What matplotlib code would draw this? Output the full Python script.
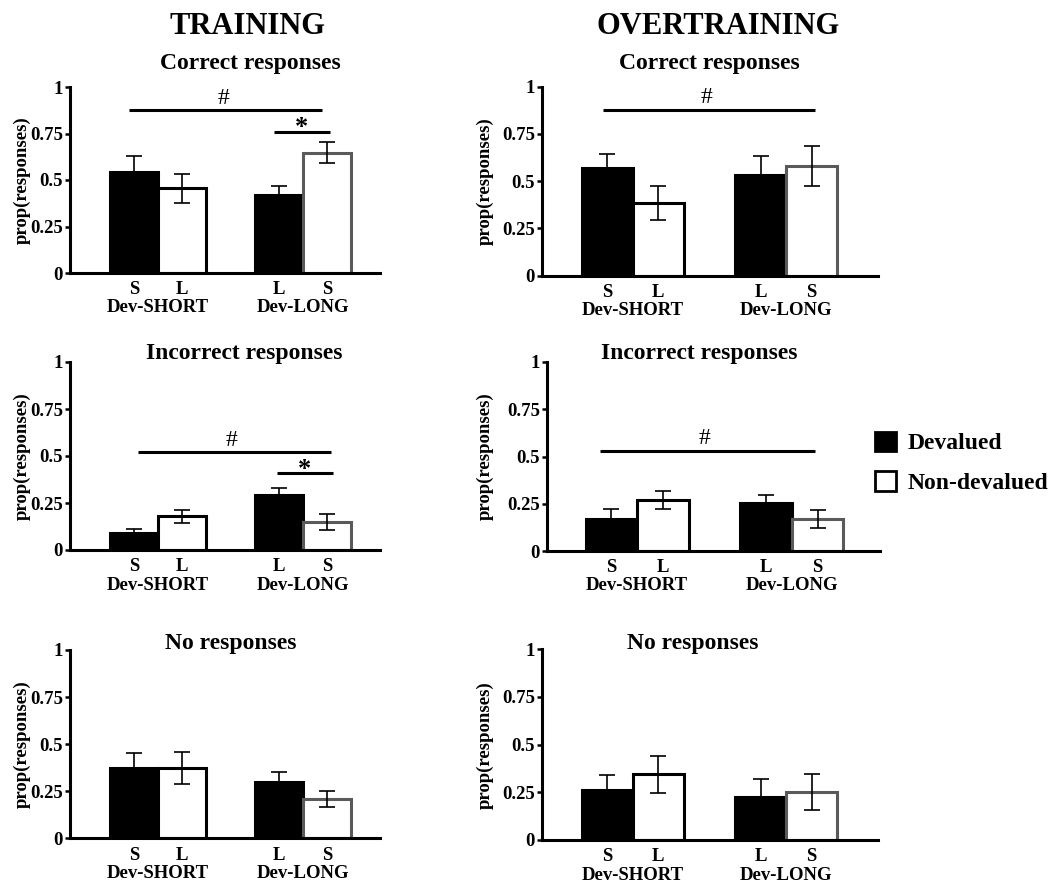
import matplotlib
matplotlib.use("Agg")
import matplotlib.pyplot as plt
from matplotlib.patches import Patch

plt.rcParams['font.family'] = ['Liberation Serif', 'DejaVu Serif']
plt.rcParams['font.weight'] = 'bold'

W, H = 1050, 882

# order of bars: Dev-SHORT (devalued S, non-devalued L), Dev-LONG (devalued L, non-devalued S)
bar_labels = ["S", "L", "L", "S"]
group_labels = ["Dev-SHORT", "Dev-LONG"]
row_titles = ["Correct responses", "Incorrect responses", "No responses"]
col_titles = ["TRAINING", "OVERTRAINING"]

train_correct = [0.545, 0.455, 0.42, 0.647]
train_correct_err = [0.085, 0.078, 0.05, 0.058]
train_incorrect = [0.092, 0.18, 0.293, 0.15]
train_incorrect_err = [0.02, 0.035, 0.035, 0.042]
train_none = [0.372, 0.372, 0.30, 0.209]
train_none_err = [0.08, 0.085, 0.05, 0.044]

over_correct = [0.571, 0.386, 0.533, 0.58]
over_correct_err = [0.073, 0.09, 0.1, 0.106]
over_incorrect = [0.169, 0.27, 0.252, 0.169]
over_incorrect_err = [0.053, 0.05, 0.045, 0.048]
over_none = [0.262, 0.344, 0.224, 0.253]
over_none_err = [0.08, 0.096, 0.095, 0.094]

values = [[train_correct, over_correct],
          [train_incorrect, over_incorrect],
          [train_none, over_none]]
errors = [[train_correct_err, over_correct_err],
          [train_incorrect_err, over_incorrect_err],
          [train_none_err, over_none_err]]

# significance brackets: (row, col, kind, x0, x1, y)
sig_lines = [
    (0, 0, "#", -0.10, 3.90, 0.876),
    (0, 0, "*", 2.90, 4.06, 0.760),
    (0, 1, "#", -0.09, 4.07, 0.877),
    (1, 0, "#", 0.08, 4.08, 0.520),
    (1, 0, "*", 2.96, 4.12, 0.408),
    (1, 1, "#", -0.22, 3.95, 0.531),
]

positions = [0, 1, 3, 4]
group_pos = [0.5, 3.5]
face = ["black", "white", "black", "white"]
edge = ["black", "black", "black", "#5a5a5a"]

# axes boxes in pixels: (left, right, bottom(y=0), top(y=1))
boxes = [[(70, 380, 273, 87), (542, 878, 275.7, 86.7)],
         [(70, 380, 550, 362), (547, 880, 551, 362)],
         [(70, 380, 838.3, 650), (542, 878, 840, 649.3)]]
xlims = [[(-1.33, 5.10), (-1.28, 5.30)],
         [(-1.33, 5.10), (-1.25, 5.21)],
         [(-1.33, 5.10), (-1.28, 5.30)]]
title_pos = [[(250, 63), (709, 63)],
             [(244, 354), (699, 354)],
             [(231, 643), (693, 643)]]
ylabel_x = [31, 494]

fig = plt.figure(figsize=(W / 100, H / 100), dpi=100)

for r in range(3):
    for c in range(2):
        l, rr, b, t = boxes[r][c]
        ax = fig.add_axes([l / W, 1 - b / H, (rr - l) / W, (b - t) / H])
        ax.bar(positions, values[r][c], width=1.0, color=face, edgecolor=edge,
               linewidth=2.2, zorder=2)
        ax.errorbar(positions, values[r][c], yerr=errors[r][c], fmt='none',
                    ecolor='black', elinewidth=1.2, capsize=5.5, capthick=1.2, zorder=3)
        ax.set_xlim(*xlims[r][c])
        ax.set_ylim(0, 1)
        ax.set_yticks([0, 0.25, 0.5, 0.75, 1])
        ax.set_yticklabels(["0", "0.25", "0.5", "0.75", "1"])
        ax.set_xticks(positions)
        ax.set_xticklabels(bar_labels)
        for s in ["top", "right"]:
            ax.spines[s].set_visible(False)
        for s in ["left", "bottom"]:
            ax.spines[s].set_linewidth(2.2)
        ax.tick_params(axis='y', direction='out', length=3.6, width=1.8,
                       labelsize=13.5, pad=1.5)
        ax.tick_params(axis='x', length=0, labelsize=13.5, pad=6)
        for lab in ax.get_xticklabels() + ax.get_yticklabels():
            lab.set_fontweight('bold')
        for gp, gl in zip(group_pos, group_labels):
            ax.annotate(gl, xy=(gp, 0), xycoords=('data', 'axes fraction'),
                        xytext=(0, -25.2), textcoords='offset points',
                        ha='center', va='center', fontsize=13.5, fontweight='bold')
        ax.set_ylabel("prop(responses)", fontsize=13.5, fontweight='bold')
        ax.yaxis.set_label_coords((ylabel_x[c] - l) / (rr - l), 0.5)
        tx, ty = title_pos[r][c]
        fig.text(tx / W, 1 - ty / H, row_titles[r], ha='center', va='center',
                 fontsize=17, fontweight='bold')
        for (sr, sc, kind, x0, x1, y) in sig_lines:
            if sr == r and sc == c:
                ax.plot([x0, x1], [y, y], color='black', linewidth=2.2,
                        solid_capstyle='butt', clip_on=False)
                xm = (x0 + x1) / 2 if kind == "*" else (x0 + x1) / 2 - 0.05
                if kind == "#":
                    ax.text(xm, y + 0.035, "#", ha='center', va='baseline',
                            fontsize=17, fontweight='normal')
                else:
                    ax.text(xm, y - 0.012, "*", ha='center', va='baseline',
                            fontsize=19, fontweight='bold')

fig.text(248 / W, 1 - 26 / H, col_titles[0], ha='center', va='center',
         fontsize=22, fontweight='bold')
fig.text(718 / W, 1 - 26 / H, col_titles[1], ha='center', va='center',
         fontsize=22, fontweight='bold')

handles = [Patch(facecolor='black', edgecolor='black', linewidth=2),
           Patch(facecolor='white', edgecolor='black', linewidth=2)]
fig.legend(handles, ["Devalued", "Non-devalued"], loc='upper left',
           bbox_to_anchor=(858 / W, 1 - 415 / H), frameon=False,
           handlelength=0.9, handleheight=0.9,
           handletextpad=0.5, labelspacing=0.72, borderpad=0.2,
           prop={'weight': 'bold', 'size': 17})

fig.savefig("out.png", dpi=100)
